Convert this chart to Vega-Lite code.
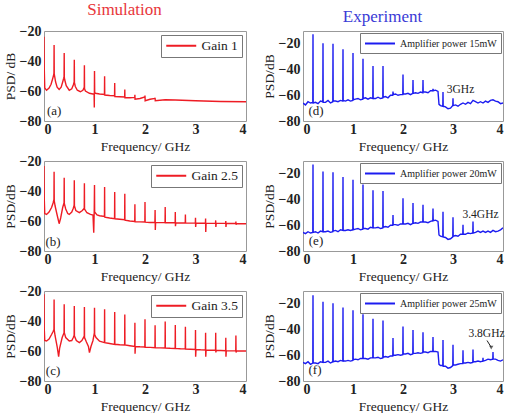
{
"$schema": "https://vega.github.io/schema/vega-lite/v6.json",
"padding": {"left": 2, "top": 0, "right": 4, "bottom": 0},
"datasets": {
"a": [{"f":0,"p":-23.8},{"f":0.005,"p":-45},{"f":0.015,"p":-58},{"f":0.05,"p":-59.5},{"f":0.1,"p":-58},{"f":0.14,"p":-55.5},{"f":0.17,"p":-52},{"f":0.19,"p":-49.5},{"f":0.197,"p":-48},{"f":0.2,"p":-29.4},{"f":0.203,"p":-48.5},{"f":0.21,"p":-50},{"f":0.23,"p":-54},{"f":0.26,"p":-57.5},{"f":0.3,"p":-59},{"f":0.34,"p":-57.5},{"f":0.37,"p":-54},{"f":0.39,"p":-51.5},{"f":0.397,"p":-50.5},{"f":0.4,"p":-34.6},{"f":0.403,"p":-51},{"f":0.41,"p":-52.5},{"f":0.44,"p":-56.5},{"f":0.5,"p":-59.5},{"f":0.55,"p":-58.5},{"f":0.58,"p":-56},{"f":0.597,"p":-54},{"f":0.6,"p":-39.1},{"f":0.603,"p":-54.5},{"f":0.62,"p":-57},{"f":0.66,"p":-59.5},{"f":0.72,"p":-60.5},{"f":0.77,"p":-59.5},{"f":0.797,"p":-57.5},{"f":0.8,"p":-42.9},{"f":0.803,"p":-58.5},{"f":0.82,"p":-60},{"f":0.9,"p":-61.5},{"f":0.97,"p":-62},{"f":0.992,"p":-62},{"f":0.996,"p":-71},{"f":1.0,"p":-46.7},{"f":1.004,"p":-61},{"f":1.02,"p":-61.5},{"f":1.1,"p":-62},{"f":1.197,"p":-62.3},{"f":1.2,"p":-50.1},{"f":1.203,"p":-62.7},{"f":1.3,"p":-63},{"f":1.397,"p":-63.2},{"f":1.4,"p":-54.6},{"f":1.403,"p":-63.7},{"f":1.5,"p":-63.8},{"f":1.597,"p":-64},{"f":1.6,"p":-59},{"f":1.603,"p":-64.5},{"f":1.7,"p":-64.5},{"f":1.797,"p":-64.3},{"f":1.8,"p":-62.5},{"f":1.803,"p":-65.5},{"f":1.9,"p":-65},{"f":1.997,"p":-64},{"f":2.0,"p":-63},{"f":2.003,"p":-66.5},{"f":2.1,"p":-65.5},{"f":2.197,"p":-65},{"f":2.2,"p":-64.5},{"f":2.203,"p":-66.5},{"f":2.4,"p":-65.8},{"f":2.6,"p":-66},{"f":3.0,"p":-66.5},{"f":3.5,"p":-67},{"f":4.0,"p":-67.2}],
"b": [{"f":0,"p":-23.3},{"f":0.005,"p":-45},{"f":0.015,"p":-55},{"f":0.05,"p":-55.6},{"f":0.1,"p":-54},{"f":0.15,"p":-51},{"f":0.18,"p":-48},{"f":0.197,"p":-45.6},{"f":0.2,"p":-27.1},{"f":0.203,"p":-46.5},{"f":0.22,"p":-50},{"f":0.26,"p":-56},{"f":0.3,"p":-61.8},{"f":0.33,"p":-58},{"f":0.37,"p":-51},{"f":0.397,"p":-47.8},{"f":0.4,"p":-31.1},{"f":0.403,"p":-48.5},{"f":0.43,"p":-52},{"f":0.47,"p":-55},{"f":0.5,"p":-55.6},{"f":0.55,"p":-54},{"f":0.58,"p":-51.5},{"f":0.597,"p":-49.5},{"f":0.6,"p":-32.9},{"f":0.603,"p":-50},{"f":0.63,"p":-53},{"f":0.7,"p":-54.4},{"f":0.76,"p":-53},{"f":0.797,"p":-51.5},{"f":0.8,"p":-34.9},{"f":0.803,"p":-52},{"f":0.85,"p":-54.5},{"f":0.92,"p":-55.6},{"f":0.97,"p":-56},{"f":0.985,"p":-67.8},{"f":0.995,"p":-52},{"f":1.0,"p":-36},{"f":1.003,"p":-54},{"f":1.05,"p":-56},{"f":1.1,"p":-56.5},{"f":1.197,"p":-57},{"f":1.2,"p":-37.3},{"f":1.203,"p":-57.5},{"f":1.3,"p":-58},{"f":1.397,"p":-58.4},{"f":1.4,"p":-40.7},{"f":1.403,"p":-58.5},{"f":1.5,"p":-58.8},{"f":1.597,"p":-59.2},{"f":1.6,"p":-41.8},{"f":1.603,"p":-59.5},{"f":1.7,"p":-60},{"f":1.797,"p":-60.3},{"f":1.8,"p":-48.9},{"f":1.803,"p":-60.5},{"f":1.9,"p":-60.6},{"f":1.997,"p":-60.7},{"f":2.0,"p":-47.3},{"f":2.003,"p":-60.8},{"f":2.1,"p":-61},{"f":2.196,"p":-61},{"f":2.2,"p":-52.7},{"f":2.204,"p":-66},{"f":2.21,"p":-61},{"f":2.3,"p":-61.1},{"f":2.397,"p":-61.1},{"f":2.4,"p":-50.7},{"f":2.403,"p":-61.2},{"f":2.5,"p":-61.2},{"f":2.597,"p":-61.2},{"f":2.6,"p":-54},{"f":2.603,"p":-63.5},{"f":2.61,"p":-61.3},{"f":2.7,"p":-61.3},{"f":2.797,"p":-61.3},{"f":2.8,"p":-55.6},{"f":2.803,"p":-61.4},{"f":2.9,"p":-61.4},{"f":2.997,"p":-61.4},{"f":3.0,"p":-57.8},{"f":3.003,"p":-64},{"f":3.01,"p":-61.5},{"f":3.1,"p":-61.5},{"f":3.197,"p":-61.5},{"f":3.2,"p":-58.4},{"f":3.203,"p":-67.3},{"f":3.21,"p":-61.5},{"f":3.3,"p":-61.6},{"f":3.397,"p":-61.5},{"f":3.4,"p":-59.6},{"f":3.403,"p":-64},{"f":3.41,"p":-61.6},{"f":3.5,"p":-61.6},{"f":3.597,"p":-61.6},{"f":3.6,"p":-60},{"f":3.603,"p":-64},{"f":3.61,"p":-61.7},{"f":3.7,"p":-61.7},{"f":3.797,"p":-61.7},{"f":3.8,"p":-60.3},{"f":3.803,"p":-62.5},{"f":3.81,"p":-61.7},{"f":3.9,"p":-61.8},{"f":4.0,"p":-61.8}],
"c": [{"f":0,"p":-22.2},{"f":0.005,"p":-45},{"f":0.015,"p":-53},{"f":0.05,"p":-53.3},{"f":0.1,"p":-52},{"f":0.15,"p":-49},{"f":0.18,"p":-47},{"f":0.197,"p":-45.6},{"f":0.2,"p":-25.6},{"f":0.203,"p":-46},{"f":0.22,"p":-50},{"f":0.26,"p":-57},{"f":0.29,"p":-63.8},{"f":0.31,"p":-58},{"f":0.36,"p":-51},{"f":0.397,"p":-47.8},{"f":0.4,"p":-28.9},{"f":0.403,"p":-48},{"f":0.43,"p":-51},{"f":0.5,"p":-53.3},{"f":0.55,"p":-53},{"f":0.58,"p":-51},{"f":0.597,"p":-49.5},{"f":0.6,"p":-30},{"f":0.603,"p":-50},{"f":0.64,"p":-53},{"f":0.7,"p":-54.4},{"f":0.75,"p":-53},{"f":0.797,"p":-50},{"f":0.8,"p":-30.7},{"f":0.803,"p":-51},{"f":0.84,"p":-54},{"f":0.88,"p":-57},{"f":0.9,"p":-61.1},{"f":0.93,"p":-57},{"f":0.97,"p":-53},{"f":0.997,"p":-48},{"f":1.0,"p":-31.1},{"f":1.003,"p":-49},{"f":1.03,"p":-51},{"f":1.1,"p":-53.5},{"f":1.197,"p":-54.4},{"f":1.2,"p":-32.2},{"f":1.203,"p":-54.5},{"f":1.3,"p":-55},{"f":1.397,"p":-55.6},{"f":1.4,"p":-34},{"f":1.403,"p":-55.5},{"f":1.5,"p":-55.8},{"f":1.597,"p":-56},{"f":1.6,"p":-35.6},{"f":1.603,"p":-56},{"f":1.7,"p":-56.5},{"f":1.797,"p":-57},{"f":1.8,"p":-41.1},{"f":1.803,"p":-61.8},{"f":1.81,"p":-57},{"f":1.9,"p":-57.2},{"f":1.997,"p":-57.3},{"f":2.0,"p":-38.9},{"f":2.003,"p":-57.5},{"f":2.1,"p":-57.6},{"f":2.197,"p":-57.8},{"f":2.2,"p":-42.9},{"f":2.203,"p":-57.8},{"f":2.3,"p":-57.9},{"f":2.397,"p":-58},{"f":2.4,"p":-40.4},{"f":2.403,"p":-58},{"f":2.5,"p":-58.2},{"f":2.597,"p":-58.3},{"f":2.6,"p":-42.7},{"f":2.603,"p":-58.3},{"f":2.7,"p":-58.5},{"f":2.797,"p":-58.6},{"f":2.8,"p":-43.8},{"f":2.803,"p":-58.7},{"f":2.9,"p":-58.8},{"f":2.997,"p":-59},{"f":3.0,"p":-46},{"f":3.003,"p":-63.8},{"f":3.01,"p":-59},{"f":3.1,"p":-59.2},{"f":3.197,"p":-59.3},{"f":3.2,"p":-47.8},{"f":3.203,"p":-63.8},{"f":3.21,"p":-59.4},{"f":3.3,"p":-59.5},{"f":3.397,"p":-59.5},{"f":3.4,"p":-47.8},{"f":3.403,"p":-61},{"f":3.41,"p":-59.6},{"f":3.5,"p":-59.7},{"f":3.597,"p":-59.8},{"f":3.6,"p":-51.1},{"f":3.603,"p":-63.8},{"f":3.61,"p":-59.8},{"f":3.7,"p":-59.9},{"f":3.797,"p":-59.9},{"f":3.8,"p":-49.6},{"f":3.803,"p":-61},{"f":3.81,"p":-60},{"f":3.9,"p":-60},{"f":4.0,"p":-60}],
"d": [{"f":0,"p":-66},{"f":0.05,"p":-67.5},{"f":0.1,"p":-65},{"f":0.15,"p":-66},{"f":0.196,"p":-65.5},{"f":0.2,"p":-12.6},{"f":0.204,"p":-66},{"f":0.25,"p":-65.5},{"f":0.3,"p":-66.5},{"f":0.35,"p":-64.5},{"f":0.396,"p":-65},{"f":0.4,"p":-19.5},{"f":0.404,"p":-65.5},{"f":0.45,"p":-65.5},{"f":0.5,"p":-64},{"f":0.55,"p":-66},{"f":0.596,"p":-65},{"f":0.6,"p":-20},{"f":0.604,"p":-64.5},{"f":0.65,"p":-64.5},{"f":0.7,"p":-65},{"f":0.75,"p":-64},{"f":0.796,"p":-64.5},{"f":0.8,"p":-24.1},{"f":0.804,"p":-64},{"f":0.85,"p":-64.5},{"f":0.9,"p":-63.5},{"f":0.95,"p":-64.5},{"f":0.996,"p":-64},{"f":1.0,"p":-27.2},{"f":1.004,"p":-63.5},{"f":1.05,"p":-63},{"f":1.1,"p":-62.5},{"f":1.15,"p":-63.5},{"f":1.196,"p":-63},{"f":1.2,"p":-31.5},{"f":1.204,"p":-62.5},{"f":1.25,"p":-62},{"f":1.3,"p":-63},{"f":1.35,"p":-62},{"f":1.396,"p":-62.5},{"f":1.4,"p":-37.2},{"f":1.404,"p":-62.5},{"f":1.45,"p":-62.5},{"f":1.5,"p":-61.5},{"f":1.55,"p":-62.5},{"f":1.596,"p":-62},{"f":1.6,"p":-37.2},{"f":1.604,"p":-61.5},{"f":1.65,"p":-61},{"f":1.7,"p":-62},{"f":1.75,"p":-60},{"f":1.796,"p":-60},{"f":1.8,"p":-57},{"f":1.804,"p":-59.5},{"f":1.85,"p":-59},{"f":1.9,"p":-60},{"f":1.95,"p":-59.5},{"f":1.996,"p":-59.5},{"f":2.0,"p":-43.8},{"f":2.004,"p":-59},{"f":2.05,"p":-59},{"f":2.1,"p":-58.5},{"f":2.15,"p":-59.5},{"f":2.196,"p":-58.5},{"f":2.2,"p":-48.2},{"f":2.204,"p":-58.5},{"f":2.25,"p":-58},{"f":2.3,"p":-58.5},{"f":2.35,"p":-57.5},{"f":2.396,"p":-58},{"f":2.4,"p":-48.2},{"f":2.404,"p":-57.5},{"f":2.45,"p":-57.5},{"f":2.5,"p":-58},{"f":2.55,"p":-56.5},{"f":2.596,"p":-56.5},{"f":2.6,"p":-55},{"f":2.604,"p":-56.5},{"f":2.65,"p":-56},{"f":2.7,"p":-57},{"f":2.72,"p":-67},{"f":2.75,"p":-68},{"f":2.796,"p":-68.5},{"f":2.8,"p":-57.4},{"f":2.804,"p":-68.5},{"f":2.85,"p":-69},{"f":2.9,"p":-70.5},{"f":2.95,"p":-70},{"f":2.996,"p":-68},{"f":3.0,"p":-62.3},{"f":3.004,"p":-68},{"f":3.05,"p":-67.5},{"f":3.1,"p":-68.5},{"f":3.15,"p":-67},{"f":3.2,"p":-66},{"f":3.25,"p":-67},{"f":3.3,"p":-65.5},{"f":3.35,"p":-66.5},{"f":3.4,"p":-64},{"f":3.45,"p":-65},{"f":3.5,"p":-66},{"f":3.55,"p":-65},{"f":3.6,"p":-66},{"f":3.65,"p":-64.5},{"f":3.7,"p":-65.5},{"f":3.75,"p":-64},{"f":3.8,"p":-63.5},{"f":3.85,"p":-64.5},{"f":3.9,"p":-65},{"f":3.95,"p":-66.5},{"f":4.0,"p":-66}],
"e": [{"f":0,"p":-65.5},{"f":0.05,"p":-66.5},{"f":0.1,"p":-65},{"f":0.15,"p":-66},{"f":0.196,"p":-65.5},{"f":0.2,"p":-12.75},{"f":0.204,"p":-65.5},{"f":0.25,"p":-65},{"f":0.3,"p":-66},{"f":0.35,"p":-64.5},{"f":0.396,"p":-65},{"f":0.4,"p":-18.25},{"f":0.404,"p":-65},{"f":0.45,"p":-65},{"f":0.5,"p":-64.5},{"f":0.55,"p":-65.5},{"f":0.596,"p":-65},{"f":0.6,"p":-18.75},{"f":0.604,"p":-64.5},{"f":0.65,"p":-64},{"f":0.7,"p":-65},{"f":0.75,"p":-63.5},{"f":0.796,"p":-64},{"f":0.8,"p":-22.5},{"f":0.804,"p":-64},{"f":0.85,"p":-64},{"f":0.9,"p":-63.5},{"f":0.95,"p":-64},{"f":0.996,"p":-63.5},{"f":1.0,"p":-24.5},{"f":1.004,"p":-63.5},{"f":1.05,"p":-63},{"f":1.1,"p":-62.5},{"f":1.15,"p":-63.5},{"f":1.196,"p":-63},{"f":1.2,"p":-28.25},{"f":1.204,"p":-62.5},{"f":1.25,"p":-62.5},{"f":1.3,"p":-63},{"f":1.35,"p":-61.5},{"f":1.396,"p":-62},{"f":1.4,"p":-32.75},{"f":1.404,"p":-62},{"f":1.45,"p":-62},{"f":1.5,"p":-61.5},{"f":1.55,"p":-62.5},{"f":1.596,"p":-62},{"f":1.6,"p":-33.25},{"f":1.604,"p":-61.5},{"f":1.65,"p":-61},{"f":1.7,"p":-61.5},{"f":1.75,"p":-60},{"f":1.796,"p":-60},{"f":1.8,"p":-52},{"f":1.804,"p":-59.5},{"f":1.85,"p":-59.5},{"f":1.9,"p":-60},{"f":1.95,"p":-59},{"f":1.996,"p":-59},{"f":2.0,"p":-39},{"f":2.004,"p":-59},{"f":2.05,"p":-59},{"f":2.1,"p":-58.5},{"f":2.15,"p":-59.5},{"f":2.196,"p":-58.5},{"f":2.2,"p":-42.75},{"f":2.204,"p":-58.5},{"f":2.25,"p":-58},{"f":2.3,"p":-58.5},{"f":2.35,"p":-57.5},{"f":2.396,"p":-57.5},{"f":2.4,"p":-44},{"f":2.404,"p":-57.5},{"f":2.45,"p":-57.5},{"f":2.5,"p":-58},{"f":2.55,"p":-57},{"f":2.596,"p":-56.5},{"f":2.6,"p":-47},{"f":2.604,"p":-56.5},{"f":2.65,"p":-56},{"f":2.7,"p":-57},{"f":2.72,"p":-67.5},{"f":2.75,"p":-68.5},{"f":2.796,"p":-69},{"f":2.8,"p":-49.5},{"f":2.804,"p":-69},{"f":2.85,"p":-69.5},{"f":2.9,"p":-71},{"f":2.95,"p":-70.5},{"f":2.996,"p":-69},{"f":3.0,"p":-53.75},{"f":3.004,"p":-68.5},{"f":3.05,"p":-68},{"f":3.1,"p":-68.5},{"f":3.15,"p":-67},{"f":3.196,"p":-67},{"f":3.2,"p":-59.5},{"f":3.204,"p":-67},{"f":3.25,"p":-67},{"f":3.3,"p":-66},{"f":3.35,"p":-66.5},{"f":3.396,"p":-66},{"f":3.4,"p":-57},{"f":3.404,"p":-66},{"f":3.45,"p":-65.5},{"f":3.5,"p":-64.5},{"f":3.55,"p":-65.5},{"f":3.6,"p":-64.5},{"f":3.65,"p":-65.5},{"f":3.7,"p":-64.5},{"f":3.75,"p":-65.5},{"f":3.8,"p":-64},{"f":3.85,"p":-65},{"f":3.9,"p":-64.5},{"f":3.95,"p":-63.5},{"f":4.0,"p":-62}],
"f": [{"f":0,"p":-65.5},{"f":0.05,"p":-66.5},{"f":0.1,"p":-65},{"f":0.15,"p":-67},{"f":0.196,"p":-66},{"f":0.2,"p":-13.4},{"f":0.204,"p":-66},{"f":0.25,"p":-66},{"f":0.3,"p":-66.5},{"f":0.35,"p":-65},{"f":0.396,"p":-65.5},{"f":0.4,"p":-18.3},{"f":0.404,"p":-65.5},{"f":0.45,"p":-65.5},{"f":0.5,"p":-64.5},{"f":0.55,"p":-66},{"f":0.596,"p":-65},{"f":0.6,"p":-19.5},{"f":0.604,"p":-65},{"f":0.65,"p":-64.5},{"f":0.7,"p":-65},{"f":0.75,"p":-64},{"f":0.796,"p":-64.5},{"f":0.8,"p":-22.9},{"f":0.804,"p":-64.5},{"f":0.85,"p":-64.5},{"f":0.9,"p":-64},{"f":0.95,"p":-64.5},{"f":0.996,"p":-64},{"f":1.0,"p":-24.9},{"f":1.004,"p":-63.5},{"f":1.05,"p":-63},{"f":1.1,"p":-63.5},{"f":1.15,"p":-62.5},{"f":1.196,"p":-62.5},{"f":1.2,"p":-28.1},{"f":1.204,"p":-62.5},{"f":1.25,"p":-62.5},{"f":1.3,"p":-63},{"f":1.35,"p":-62},{"f":1.396,"p":-62},{"f":1.4,"p":-31.5},{"f":1.404,"p":-62},{"f":1.45,"p":-62},{"f":1.5,"p":-61.5},{"f":1.55,"p":-62.5},{"f":1.596,"p":-62},{"f":1.6,"p":-33},{"f":1.604,"p":-61.5},{"f":1.65,"p":-61},{"f":1.7,"p":-61.5},{"f":1.75,"p":-60.5},{"f":1.796,"p":-60.5},{"f":1.8,"p":-46.5},{"f":1.804,"p":-60},{"f":1.85,"p":-60},{"f":1.9,"p":-59.5},{"f":1.95,"p":-60},{"f":1.996,"p":-59.5},{"f":2.0,"p":-37.6},{"f":2.004,"p":-59},{"f":2.05,"p":-59},{"f":2.1,"p":-58.5},{"f":2.15,"p":-59.5},{"f":2.196,"p":-59},{"f":2.2,"p":-40.3},{"f":2.204,"p":-58.5},{"f":2.25,"p":-58.5},{"f":2.3,"p":-58},{"f":2.35,"p":-58.5},{"f":2.396,"p":-58},{"f":2.4,"p":-42},{"f":2.404,"p":-57.5},{"f":2.45,"p":-57.5},{"f":2.5,"p":-58},{"f":2.55,"p":-57},{"f":2.596,"p":-57},{"f":2.6,"p":-45.7},{"f":2.604,"p":-57},{"f":2.65,"p":-57},{"f":2.7,"p":-57.5},{"f":2.72,"p":-67},{"f":2.75,"p":-68},{"f":2.796,"p":-68},{"f":2.8,"p":-48.2},{"f":2.804,"p":-68.5},{"f":2.85,"p":-68.5},{"f":2.9,"p":-70},{"f":2.95,"p":-69.5},{"f":2.996,"p":-68},{"f":3.0,"p":-51.9},{"f":3.004,"p":-67.5},{"f":3.05,"p":-67.5},{"f":3.1,"p":-67},{"f":3.15,"p":-66.5},{"f":3.196,"p":-66.5},{"f":3.2,"p":-56},{"f":3.204,"p":-66},{"f":3.25,"p":-66},{"f":3.3,"p":-65.5},{"f":3.35,"p":-66},{"f":3.396,"p":-65.5},{"f":3.4,"p":-55.5},{"f":3.404,"p":-65},{"f":3.45,"p":-65},{"f":3.5,"p":-64.5},{"f":3.55,"p":-65},{"f":3.596,"p":-64.5},{"f":3.6,"p":-62},{"f":3.604,"p":-64.5},{"f":3.65,"p":-64},{"f":3.7,"p":-63},{"f":3.75,"p":-63.5},{"f":3.796,"p":-63},{"f":3.8,"p":-57.5},{"f":3.804,"p":-63},{"f":3.85,"p":-63},{"f":3.9,"p":-64},{"f":3.95,"p":-64.5},{"f":4.0,"p":-63.5}]
},
"columns": 2,
"align": "each",
"spacing": {"row": 0, "column": 14},
"resolve": {"scale": {"color": "independent"}, "legend": {"color": "independent"}},
"concat": [
{"width": 202, "height": 90,
 "title": {"text": "Simulation", "color": "#e8363b", "fontSize": 17, "font": "Liberation Serif", "fontWeight": "normal", "frame": "bounds", "offset": 5},
 "encoding": {"x": {"field": "f", "type": "quantitative", "scale": {"domain": [0, 4], "nice": false}, "axis": {"values": [0,1,2,3,4], "title": "Frequency/ GHz"}},
  "y": {"field": "p", "type": "quantitative", "scale": {"domain": [-80, -20], "nice": false}, "axis": {"values": [-80,-60,-40,-20], "title": "PSD/ dB"}}},
 "layer": [
  {"data": {"name": "a"}, "mark": {"type": "line", "strokeWidth": 1.4, "clip": true},
   "encoding": {"color": {"datum": "Gain 1", "scale": {"range": ["#ee1c24"]}, "legend": {"title": null, "orient": "top-right", "offset": 4, "labelFontSize": 13.5, "symbolType": "M-1,0H4.45", "symbolSize": 121, "labelOffset": 23, "padding": 4}}}},
  {"data": {"values": [{"f": 0.2, "p": -73, "t": "(a)"}]}, "mark": {"type": "text", "font": "Liberation Serif", "fontSize": 13, "color": "#222"},
   "encoding": {"text": {"field": "t"}}}
 ]},
{"width": 200, "height": 90,
 "title": {"text": "Experiment", "color": "#3a3ad6", "fontSize": 17, "font": "Liberation Serif", "fontWeight": "normal", "frame": "bounds", "offset": 5},
 "encoding": {"x": {"field": "f", "type": "quantitative", "scale": {"domain": [0, 4], "nice": false}, "axis": {"values": [0,1,2,3,4], "title": "Frequency/ GHz"}},
  "y": {"field": "p", "type": "quantitative", "scale": {"domain": [-80, -10], "nice": false}, "axis": {"values": [-80,-60,-40,-20], "title": "PSD/dB"}}},
 "layer": [
  {"data": {"name": "d"}, "mark": {"type": "line", "strokeWidth": 1.4, "clip": true},
   "encoding": {"color": {"datum": "Amplifier power 15mW", "scale": {"range": ["#1c1cf0"]}, "legend": {"title": null, "orient": "top-right", "offset": 2, "labelFontSize": 10, "symbolType": "M-1,0H4.45", "symbolSize": 121, "labelOffset": 23, "padding": 4}}}},
  {"data": {"values": [{"f": 0.26, "p": -72, "t": "(d)", "s": 13}, {"f": 3.15, "p": -56, "t": "3GHz", "s": 11.5}]}, "mark": {"type": "text", "font": "Liberation Serif", "color": "#222"},
   "encoding": {"text": {"field": "t"}, "size": {"field": "s", "type": "quantitative", "scale": null}}}
 ]},
{"width": 202, "height": 90,
 "encoding": {"x": {"field": "f", "type": "quantitative", "scale": {"domain": [0, 4], "nice": false}, "axis": {"values": [0,1,2,3,4], "title": "Frequency/ GHz"}},
  "y": {"field": "p", "type": "quantitative", "scale": {"domain": [-80, -20], "nice": false}, "axis": {"values": [-80,-60,-40,-20], "title": "PSD/dB"}}},
 "layer": [
  {"data": {"name": "b"}, "mark": {"type": "line", "strokeWidth": 1.4, "clip": true},
   "encoding": {"color": {"datum": "Gain 2.5", "scale": {"range": ["#ee1c24"]}, "legend": {"title": null, "orient": "top-right", "offset": 4, "labelFontSize": 13.5, "symbolType": "M-1,0H4.45", "symbolSize": 121, "labelOffset": 23, "padding": 4}}}},
  {"data": {"values": [{"f": 0.18, "p": -74, "t": "(b)"}]}, "mark": {"type": "text", "font": "Liberation Serif", "fontSize": 13, "color": "#222"},
   "encoding": {"text": {"field": "t"}}}
 ]},
{"width": 200, "height": 90,
 "encoding": {"x": {"field": "f", "type": "quantitative", "scale": {"domain": [0, 4], "nice": false}, "axis": {"values": [0,1,2,3,4], "title": "Frequency/ GHz"}},
  "y": {"field": "p", "type": "quantitative", "scale": {"domain": [-80, -10], "nice": false}, "axis": {"values": [-80,-60,-40,-20], "title": "PSD/dB"}}},
 "layer": [
  {"data": {"name": "e"}, "mark": {"type": "line", "strokeWidth": 1.4, "clip": true},
   "encoding": {"color": {"datum": "Amplifier power 20mW", "scale": {"range": ["#1c1cf0"]}, "legend": {"title": null, "orient": "top-right", "offset": 2, "labelFontSize": 10, "symbolType": "M-1,0H4.45", "symbolSize": 121, "labelOffset": 23, "padding": 4}}}},
  {"data": {"values": [{"f": 0.26, "p": -72.5, "t": "(e)", "s": 13}, {"f": 3.55, "p": -52, "t": "3.4GHz", "s": 11.5}]}, "mark": {"type": "text", "font": "Liberation Serif", "color": "#222"},
   "encoding": {"text": {"field": "t"}, "size": {"field": "s", "type": "quantitative", "scale": null}}}
 ]},
{"width": 202, "height": 90,
 "encoding": {"x": {"field": "f", "type": "quantitative", "scale": {"domain": [0, 4], "nice": false}, "axis": {"values": [0,1,2,3,4], "title": "Frequency/ GHz"}},
  "y": {"field": "p", "type": "quantitative", "scale": {"domain": [-80, -20], "nice": false}, "axis": {"values": [-80,-60,-40,-20], "title": "PSD/dB"}}},
 "layer": [
  {"data": {"name": "c"}, "mark": {"type": "line", "strokeWidth": 1.4, "clip": true},
   "encoding": {"color": {"datum": "Gain 3.5", "scale": {"range": ["#ee1c24"]}, "legend": {"title": null, "orient": "top-right", "offset": 4, "labelFontSize": 13.5, "symbolType": "M-1,0H4.45", "symbolSize": 121, "labelOffset": 23, "padding": 4}}}},
  {"data": {"values": [{"f": 0.18, "p": -73, "t": "(c)"}]}, "mark": {"type": "text", "font": "Liberation Serif", "fontSize": 13, "color": "#222"},
   "encoding": {"text": {"field": "t"}}}
 ]},
{"width": 200, "height": 90,
 "encoding": {"x": {"field": "f", "type": "quantitative", "scale": {"domain": [0, 4], "nice": false}, "axis": {"values": [0,1,2,3,4], "title": "Frequency/ GHz"}},
  "y": {"field": "p", "type": "quantitative", "scale": {"domain": [-80, -10], "nice": false}, "axis": {"values": [-80,-60,-40,-20], "title": "PSD/dB"}}},
 "layer": [
  {"data": {"name": "f"}, "mark": {"type": "line", "strokeWidth": 1.4, "clip": true},
   "encoding": {"color": {"datum": "Amplifier power 25mW", "scale": {"range": ["#1c1cf0"]}, "legend": {"title": null, "orient": "top-right", "offset": 2, "labelFontSize": 10, "symbolType": "M-1,0H4.45", "symbolSize": 121, "labelOffset": 23, "padding": 4}}}},
  {"data": {"values": [{"f": 0.24, "p": -71.5, "t": "(f)", "s": 13}, {"f": 3.67, "p": -43.5, "t": "3.8GHz", "s": 11.5}]}, "mark": {"type": "text", "font": "Liberation Serif", "color": "#222"},
   "encoding": {"text": {"field": "t"}, "size": {"field": "s", "type": "quantitative", "scale": null}}},
  {"data": {"values": [{"f": 3.68, "p": -48.5, "f2": 3.76, "p2": -53.5}]}, "mark": {"type": "rule", "color": "#222", "strokeWidth": 1},
   "encoding": {"x2": {"field": "f2"}, "y2": {"field": "p2"}}},
  {"data": {"values": [{"f": 3.765, "p": -54}]}, "mark": {"type": "point", "shape": "triangle-down", "filled": true, "size": 18, "color": "#222"}}
 ]}
],
"config": {
 "view": {"stroke": "#999", "strokeWidth": 1},
 "axis": {"grid": false, "domain": false, "ticks": false, "labelOverlap": false, "format": "d", "labelFont": "Liberation Serif", "labelFontSize": 14, "labelFontWeight": "bold", "labelColor": "#222", "titleFont": "Liberation Serif", "titleFontSize": 13.5, "titleFontWeight": "normal", "titleColor": "#222"},
 "axisX": {"labelPadding": 1, "titlePadding": 3},
 "axisY": {"labelPadding": 3, "titlePadding": 2},
 "legend": {"labelFont": "Liberation Serif", "labelColor": "#222", "strokeColor": "#777", "fillColor": "white", "symbolStrokeWidth": 2, "cornerRadius": 0}
}
}
